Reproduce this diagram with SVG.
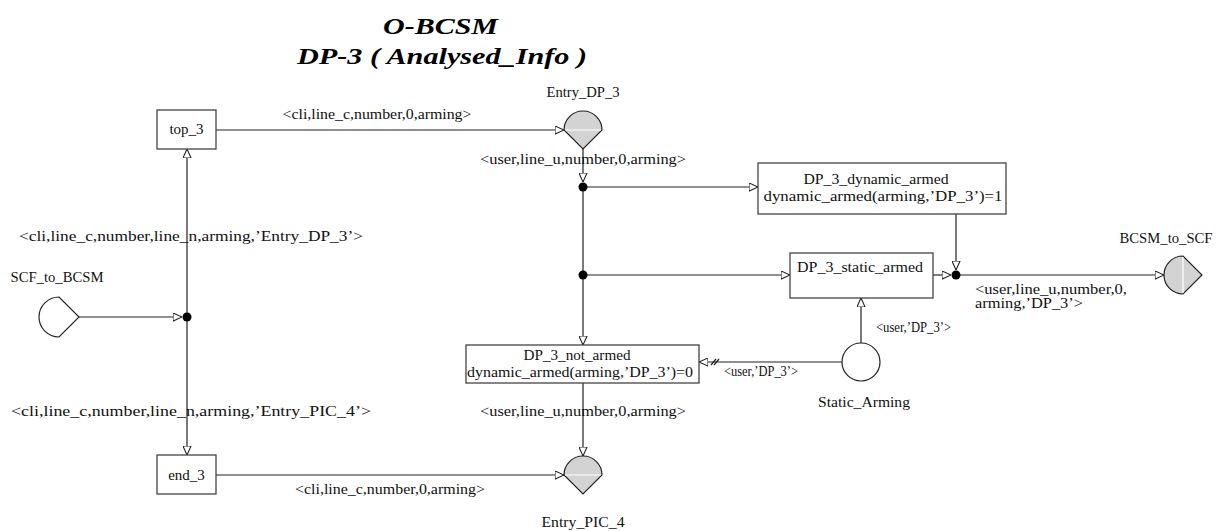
<svg xmlns="http://www.w3.org/2000/svg" width="1217" height="531" viewBox="0 0 1217 531">
  <style>
    .lbl { font-family: "Liberation Serif", "Times New Roman", serif; font-size: 15px; fill: #111; }
    .mid { text-anchor: middle; }
    .title { font-family: "Liberation Serif", "Times New Roman", serif; font-size: 24px; font-weight: bold; font-style: italic; fill: #000; }
    .box { fill: #fff; stroke: #444; stroke-width: 1.3; }
    .conn { stroke: #222; stroke-width: 1.2; fill: none; }
    .dot { fill: #000; }
    .port { fill: #d3d3d3; stroke: #222; stroke-width: 1.2; }
    .portw { fill: #fff; stroke: #222; stroke-width: 1.2; }
    .split { stroke: #fff; stroke-width: 1.2; }
  </style>
  <defs>
    <marker id="arr" viewBox="0 0 10 10" refX="10" refY="5" markerWidth="9" markerHeight="9" markerUnits="userSpaceOnUse" orient="auto">
      <path d="M0,0.5 L10,5 L0,9.5 Z" fill="#fff" stroke="#222" stroke-width="1.2"/>
    </marker>
  </defs>

  <rect width="1217" height="531" fill="#fff"/>

  <!-- title -->
  <text class="title" x="383" y="34" textLength="115" lengthAdjust="spacingAndGlyphs">O-BCSM</text>
  <text class="title" x="297" y="64" textLength="290" lengthAdjust="spacingAndGlyphs">DP-3 ( Analysed_Info )</text>

  <!-- connectors -->
  <g id="connectors">
    <line class="conn" x1="216" y1="130" x2="564" y2="130" marker-end="url(#arr)"/>
    <line class="conn" x1="583" y1="149" x2="583" y2="182" marker-end="url(#arr)"/>
    <line class="conn" x1="583" y1="187" x2="758" y2="187" marker-end="url(#arr)"/>
    <line class="conn" x1="583" y1="187" x2="583" y2="275"/>
    <line class="conn" x1="583" y1="275" x2="583" y2="345" marker-end="url(#arr)"/>
    <line class="conn" x1="583" y1="275" x2="790" y2="275" marker-end="url(#arr)"/>
    <line class="conn" x1="956" y1="214" x2="956" y2="270" marker-end="url(#arr)"/>
    <line class="conn" x1="933" y1="275" x2="951" y2="275" marker-end="url(#arr)"/>
    <line class="conn" x1="956" y1="275" x2="1164" y2="275" marker-end="url(#arr)"/>
    <line class="conn" x1="79" y1="317" x2="182" y2="317" marker-end="url(#arr)"/>
    <line class="conn" x1="187" y1="317" x2="187" y2="149" marker-end="url(#arr)"/>
    <line class="conn" x1="187" y1="317" x2="187" y2="455" marker-end="url(#arr)"/>
    <line class="conn" x1="216" y1="475" x2="564" y2="475" marker-end="url(#arr)"/>
    <line class="conn" x1="583" y1="383" x2="583" y2="456" marker-end="url(#arr)"/>
    <line class="conn" x1="861" y1="343" x2="861" y2="298" marker-end="url(#arr)"/>
    <line class="conn" x1="842" y1="362" x2="699" y2="362" marker-end="url(#arr)"/>
    <!-- break mark on the arming link -->
    <path class="conn" d="M711,365 L716,359 M714,365 L719,359"/>

    <circle class="dot" cx="583" cy="187" r="4.5"/>
    <circle class="dot" cx="583" cy="275" r="4.5"/>
    <circle class="dot" cx="956" cy="275" r="4.5"/>
    <circle class="dot" cx="187" cy="317" r="4.5"/>

    <text class="lbl mid" x="377" y="119" textLength="189" lengthAdjust="spacingAndGlyphs">&lt;cli,line_c,number,0,arming&gt;</text>
    <text class="lbl mid" x="583" y="164" textLength="206" lengthAdjust="spacingAndGlyphs">&lt;user,line_u,number,0,arming&gt;</text>
    <text class="lbl mid" x="191" y="241" textLength="344" lengthAdjust="spacingAndGlyphs">&lt;cli,line_c,number,line_n,arming,’Entry_DP_3’&gt;</text>
    <text class="lbl mid" x="191" y="416" textLength="360" lengthAdjust="spacingAndGlyphs">&lt;cli,line_c,number,line_n,arming,’Entry_PIC_4’&gt;</text>
    <text class="lbl" x="975" y="294" textLength="152" lengthAdjust="spacingAndGlyphs">&lt;user,line_u,number,0,</text>
    <text class="lbl" x="975" y="308" textLength="108" lengthAdjust="spacingAndGlyphs">arming,’DP_3’&gt;</text>
    <text class="lbl" x="876" y="332" textLength="75" lengthAdjust="spacingAndGlyphs">&lt;user,’DP_3’&gt;</text>
    <text class="lbl" x="724" y="376" textLength="74" lengthAdjust="spacingAndGlyphs">&lt;user,’DP_3’&gt;</text>
    <text class="lbl mid" x="583" y="416" textLength="206" lengthAdjust="spacingAndGlyphs">&lt;user,line_u,number,0,arming&gt;</text>
    <text class="lbl mid" x="390" y="494" textLength="190" lengthAdjust="spacingAndGlyphs">&lt;cli,line_c,number,0,arming&gt;</text>
  </g>

  <!-- nodes -->
  <g id="top_3">
    <rect class="box" x="157" y="110" width="59" height="39"/>
    <text class="lbl mid" x="186.5" y="134">top_3</text>
  </g>
  <g id="end_3">
    <rect class="box" x="157" y="455" width="59" height="39"/>
    <text class="lbl mid" x="186.5" y="480">end_3</text>
  </g>
  <g id="SCF_to_BCSM">
    <path class="portw" d="M59,297 A20,20 0 0 0 59,337 L79,317 Z"/>
    <text class="lbl mid" x="57" y="282" textLength="93" lengthAdjust="spacingAndGlyphs">SCF_to_BCSM</text>
  </g>
  <g id="Entry_DP_3">
    <path class="port" d="M564,130 A19,19 0 0 1 602,130 L583,149 Z"/>
    <line class="split" x1="565" y1="130" x2="601" y2="130"/>
    <text class="lbl mid" x="583" y="97" textLength="73" lengthAdjust="spacingAndGlyphs">Entry_DP_3</text>
  </g>
  <g id="Entry_PIC_4">
    <path class="port" d="M564,475 A19,19 0 0 1 602,475 L583,494 Z"/>
    <line class="split" x1="565" y1="475" x2="601" y2="475"/>
    <text class="lbl mid" x="583" y="527" textLength="83" lengthAdjust="spacingAndGlyphs">Entry_PIC_4</text>
  </g>
  <g id="DP_3_dynamic_armed">
    <rect class="box" x="758" y="163" width="248" height="51"/>
    <text class="lbl mid" x="876" y="184" textLength="145" lengthAdjust="spacingAndGlyphs">DP_3_dynamic_armed</text>
    <text class="lbl mid" x="883" y="201" textLength="239" lengthAdjust="spacingAndGlyphs">dynamic_armed(arming,’DP_3’)=1</text>
  </g>
  <g id="DP_3_static_armed">
    <rect class="box" x="790" y="253" width="143" height="45"/>
    <text class="lbl mid" x="860" y="272" textLength="126" lengthAdjust="spacingAndGlyphs">DP_3_static_armed</text>
  </g>
  <g id="DP_3_not_armed">
    <rect class="box" x="466" y="345" width="233" height="38"/>
    <text class="lbl mid" x="577" y="360" textLength="107" lengthAdjust="spacingAndGlyphs">DP_3_not_armed</text>
    <text class="lbl mid" x="580" y="377" textLength="226" lengthAdjust="spacingAndGlyphs">dynamic_armed(arming,’DP_3’)=0</text>
  </g>
  <g id="BCSM_to_SCF">
    <path class="port" d="M1183,256 A19,19 0 0 0 1183,294 L1202,275 Z"/>
    <line class="split" x1="1183" y1="257" x2="1183" y2="293"/>
    <text class="lbl mid" x="1166" y="243" textLength="93" lengthAdjust="spacingAndGlyphs">BCSM_to_SCF</text>
  </g>
  <g id="Static_Arming">
    <circle class="portw" cx="861" cy="362" r="19"/>
    <text class="lbl mid" x="864" y="407" textLength="92" lengthAdjust="spacingAndGlyphs">Static_Arming</text>
  </g>
</svg>
